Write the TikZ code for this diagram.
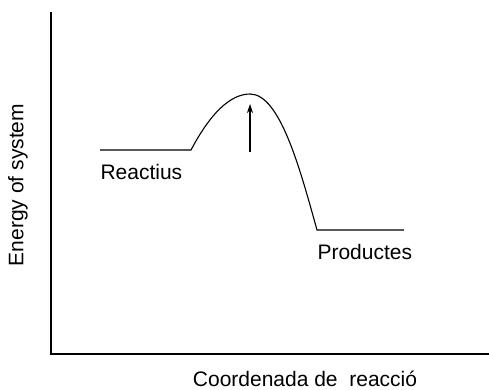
\documentclass[tikz,border=0pt]{standalone}
\usepackage{fontspec}
\setmainfont{Liberation Sans}
\usetikzlibrary{arrows.meta}
\begin{document}
\begin{tikzpicture}[x=1pt,y=1pt,line width=1.1pt,
  lab/.style={inner sep=0pt,font=\fontsize{21}{25}\selectfont}]
  \useasboundingbox (0,0) rectangle (489,389);

  % Assi
  \coordinate (O) at (51,35);
  \coordinate (ytop) at (51,377);
  \coordinate (xend) at (489,35);
  \draw (ytop) -- (O) -- (xend);
  \node[lab, rotate=90] (ylab) at (18,204) {Energy of system};
  \node[lab, anchor=base] (xlab) at (305,3) {Coordenada de\ \ reacció};

  % Profilo energetico
  \coordinate (r0) at (100,239);
  \coordinate (r1) at (191,239);
  \coordinate (ts) at (250,295);
  \coordinate (p0) at (317,159);
  \coordinate (p1) at (404,159);
  \draw (r0) -- (r1) .. controls (210,275) and (230,295) .. (ts)
    .. controls (280,295) and (300,220) .. (p0) -- (p1);

  % Freccia
  \coordinate (a0) at (250,237);
  \coordinate (a1) at (250,285);
  \draw[-{Stealth[length=9pt,width=6pt]}] (a0) -- (a1);

  % Etichette
  \node[lab, anchor=west] (reac) at (100,217) {Reactius};
  \node[lab, anchor=west] (prod) at (317,137) {Productes};
\end{tikzpicture}
\end{document}
